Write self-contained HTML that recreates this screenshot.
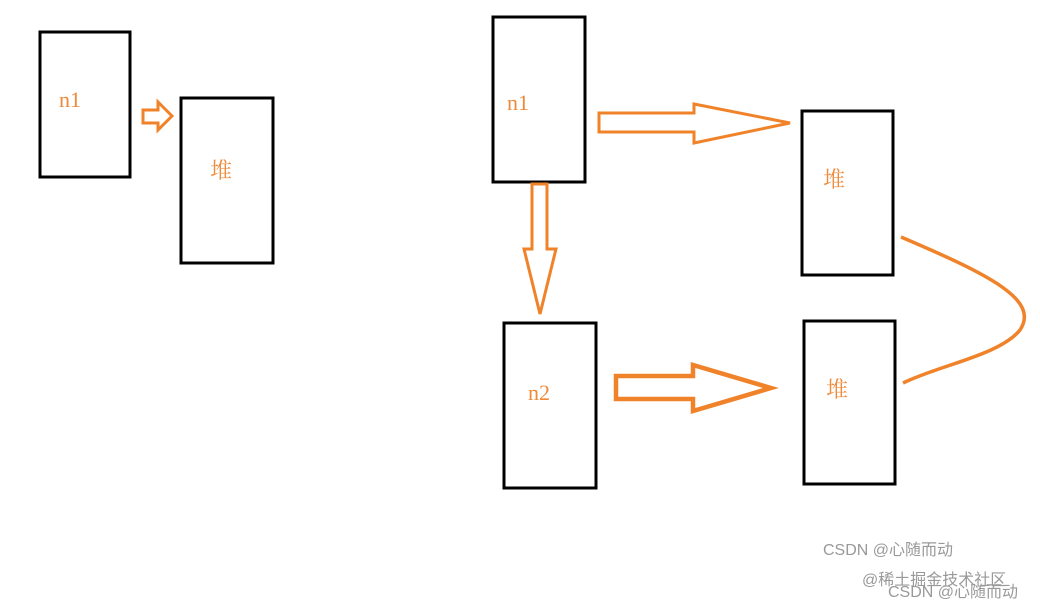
<!DOCTYPE html>
<html><head><meta charset="utf-8"><style>
body{margin:0;background:#fff;width:1040px;height:609px;overflow:hidden}
text{font-family:"Liberation Serif","Noto Serif CJK SC",serif;fill:#ef8a3a;font-size:22px}
.w{font-family:"Liberation Sans","Noto Sans CJK SC",sans-serif;font-size:16px;fill:#999}
</style></head><body>
<svg width="1040" height="609" xmlns="http://www.w3.org/2000/svg">
<g fill="none" stroke="#000" stroke-width="3">
<rect x="40" y="32" width="90" height="145"/>
<rect x="181" y="98" width="92" height="165"/>
<rect x="493" y="17" width="92" height="165"/>
<rect x="504" y="323" width="92" height="165"/>
<rect x="802" y="111" width="91" height="164"/>
<rect x="804" y="321" width="91" height="163"/>
</g>
<g fill="none" stroke="#f0832a" stroke-width="3" stroke-linejoin="miter">
<polygon points="143,110 158,110 158,102 172,116 158,130 158,123 143,123"/>
<polygon points="599,113 694,113 694,104 790,123 694,143 694,132 599,132"/>
<polygon points="532,184 547,184 547,249 556,249 540,314 524,249 532,249"/>
<polygon points="616,376 693,376 693,365 771,388 693,411 693,399 616,399" stroke-width="4.5"/>
<path d="M901,237 C990,275 1040,300 1020,330 C1000,355 940,365 903,383" stroke-width="3.5"/>
</g>
<text x="59" y="107">n1</text>
<text x="210" y="178">堆</text>
<text x="507" y="110">n1</text>
<text x="528" y="400">n2</text>
<text x="823" y="187">堆</text>
<text x="826" y="397">堆</text>
<text class="w" x="823" y="555">CSDN @心随而动</text>
<text class="w" x="862" y="585">@稀土掘金技术社区</text>
<text class="w" x="888" y="597">CSDN @心随而动</text>
</svg>
</body></html>
